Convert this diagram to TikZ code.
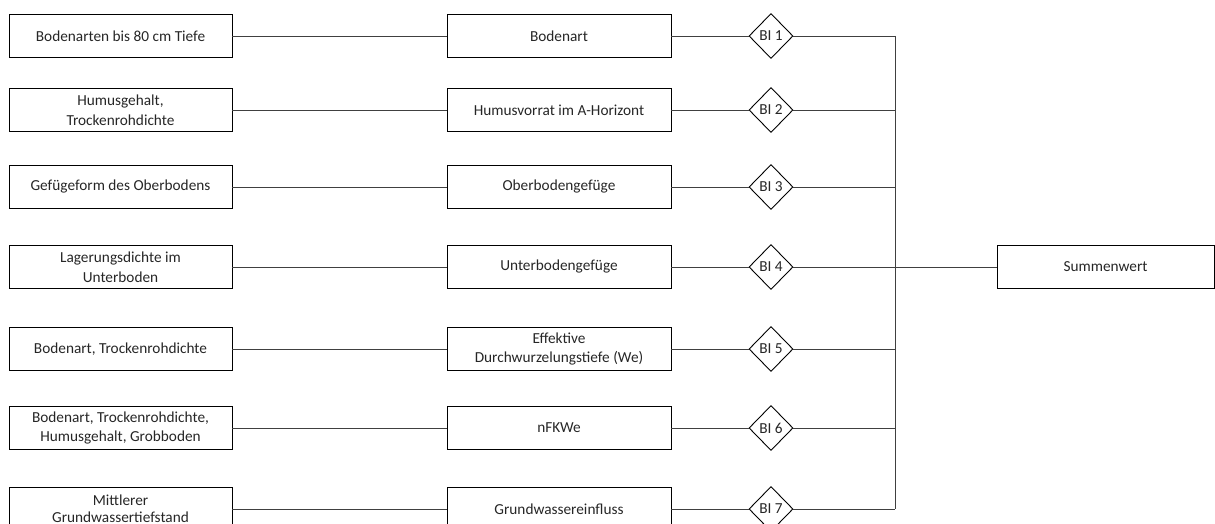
\documentclass[tikz,border=0pt]{standalone}
\usepackage{fontspec}
\setmainfont{Carlito}
\usetikzlibrary{positioning, shapes.geometric}

\begin{document}
\begin{tikzpicture}[x=1pt, y=-1pt,
    quelle/.style={rectangle, draw, line width=0.9pt, minimum width=223pt, minimum height=43pt, text centered, align=center, text=black!85, font=\fontsize{15.3}{19.5}\selectfont},
    kennwert/.style={quelle, minimum width=224pt},
    summe/.style={quelle, minimum width=217pt},
    bi/.style={diamond, draw, line width=0.9pt, minimum width=44pt, minimum height=45pt, inner sep=0pt, text=black!85, font=\fontsize{15.3}{17}\selectfont},
    verbindung/.style={draw=black!75, line width=0.7pt}
    ]
    \useasboundingbox (0,0) rectangle (1215,524);

    % Eingangsdaten
    \node[quelle] (Quelle1) at (120.5,36) {Bodenarten bis 80 cm Tiefe};
    \node[quelle] (Quelle2) at (120.5,110) {Humusgehalt,\\Trockenrohdichte};
    \node[quelle] (Quelle3) at (120.5,187) {Gefügeform des Oberbodens};
    \node[quelle] (Quelle4) at (120.5,267) {Lagerungsdichte im\\Unterboden};
    \node[quelle] (Quelle5) at (120.5,349) {Bodenart, Trockenrohdichte};
    \node[quelle] (Quelle6) at (120.5,428) {Bodenart, Trockenrohdichte,\\Humusgehalt, Grobboden};
    \node[quelle, font=\fontsize{15.3}{17}\selectfont] (Quelle7) at (120.5,509) {Mittlerer\\Grundwassertiefstand};

    % Kennwerte
    \node[kennwert] (Bodenart) at (559,36) {Bodenart};
    \node[kennwert] (Humusvorrat) at (559,110) {Humusvorrat im A-Horizont};
    \node[kennwert] (Oberboden) at (559,187) {Oberbodengefüge};
    \node[kennwert] (Unterboden) at (559,267) {Unterbodengefüge};
    \node[kennwert] (Durchwurzelung) at (559,349) {Effektive\\Durchwurzelungstiefe (We)};
    \node[kennwert] (nFKWe) at (559,428) {nFKWe};
    \node[kennwert] (Grundwasser) at (559,509) {Grundwassereinfluss};

    % Bewertungsindikatoren
    \node[bi] (BI1) at (771,36) {BI 1};
    \node[bi] (BI2) at (771,110) {BI 2};
    \node[bi] (BI3) at (771,187) {BI 3};
    \node[bi] (BI4) at (771,267) {BI 4};
    \node[bi] (BI5) at (771,349) {BI 5};
    \node[bi] (BI6) at (771,428) {BI 6};
    \node[bi] (BI7) at (771,509) {BI 7};

    \node[summe] (Summe) at (1105.5,267) {Summenwert};
    \coordinate (Sammel) at (895,267);

    % Verbindungen
    \draw[verbindung] (Quelle1) -- (Bodenart);
    \draw[verbindung] (Quelle2) -- (Humusvorrat);
    \draw[verbindung] (Quelle3) -- (Oberboden);
    \draw[verbindung] (Quelle4) -- (Unterboden);
    \draw[verbindung] (Quelle5) -- (Durchwurzelung);
    \draw[verbindung] (Quelle6) -- (nFKWe);
    \draw[verbindung] (Quelle7) -- (Grundwasser);

    \draw[verbindung] (Bodenart) -- (BI1);
    \draw[verbindung] (Humusvorrat) -- (BI2);
    \draw[verbindung] (Oberboden) -- (BI3);
    \draw[verbindung] (Unterboden) -- (BI4);
    \draw[verbindung] (Durchwurzelung) -- (BI5);
    \draw[verbindung] (nFKWe) -- (BI6);
    \draw[verbindung] (Grundwasser) -- (BI7);

    \draw[verbindung] (BI1) -- (BI1 -| Sammel);
    \draw[verbindung] (BI2) -- (BI2 -| Sammel);
    \draw[verbindung] (BI3) -- (BI3 -| Sammel);
    \draw[verbindung] (BI5) -- (BI5 -| Sammel);
    \draw[verbindung] (BI6) -- (BI6 -| Sammel);
    \draw[verbindung] (BI7) -- (BI7 -| Sammel);
    \draw[verbindung] (BI1 -| Sammel) -- (BI7 -| Sammel);
    \draw[verbindung] (BI4) -- (Summe);

\end{tikzpicture}
\end{document}
